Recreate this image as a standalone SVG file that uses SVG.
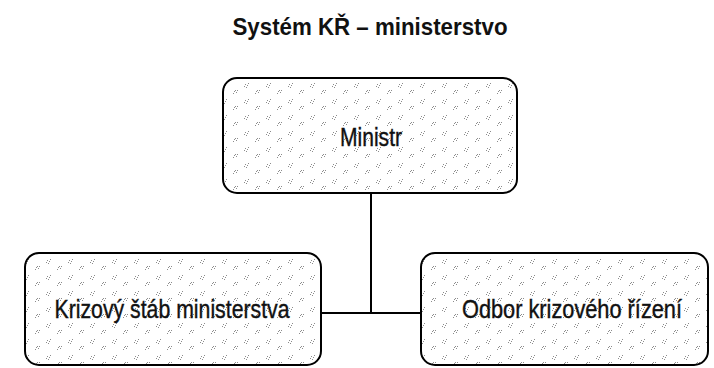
<svg xmlns="http://www.w3.org/2000/svg" width="714" height="368" viewBox="0 0 714 368">
  <style>
    .box { fill: url(#speckle); stroke: #000; stroke-width: 2; }
    .lbl { font-family: "Liberation Sans", Arial, sans-serif; font-size: 26px; fill: #111; stroke: #111; stroke-width: 0.4; text-anchor: middle; }
    .title { font-family: "Liberation Sans", Arial, sans-serif; font-size: 24px; font-weight: bold; fill: #111; text-anchor: middle; }
    .conn { stroke: #000; stroke-width: 2; fill: none; }
  </style>
  <defs>
    <pattern id="speckle" width="22" height="16" patternUnits="userSpaceOnUse">
      <rect width="22" height="16" fill="#fff"/>
      <g fill="#8c8c8c">
        <rect x="3" y="4" width="1" height="1"/>
        <rect x="5" y="5" width="1" height="1"/>
        <rect x="4" y="7" width="1" height="1"/>
        <rect x="6" y="3" width="1" height="1"/>
        <rect x="2" y="6" width="1" height="1"/>
        <rect x="14" y="11" width="1" height="1"/>
        <rect x="16" y="12" width="1" height="1"/>
        <rect x="15" y="10" width="1" height="1"/>
        <rect x="13" y="13" width="1" height="1"/>
        <rect x="17" y="10" width="1" height="1"/>
      </g>
    </pattern>
  </defs>
  <text class="title" x="370" y="35" textLength="275" lengthAdjust="spacingAndGlyphs">Systém KŘ – ministerstvo</text>
  <g id="connectors">
    <line class="conn" x1="371" y1="193" x2="371" y2="313"/>
    <line class="conn" x1="321" y1="313" x2="421" y2="313"/>
  </g>
  <g id="node-ministr">
    <rect class="box" x="223" y="78" width="294" height="115" rx="14" ry="14"/>
    <text class="lbl" x="371" y="146" textLength="62" lengthAdjust="spacingAndGlyphs">Ministr</text>
  </g>
  <g id="node-stab">
    <rect class="box" x="25" y="253" width="296" height="112" rx="14" ry="14"/>
    <text class="lbl" x="172" y="318" textLength="235" lengthAdjust="spacingAndGlyphs">Krizový štáb ministerstva</text>
  </g>
  <g id="node-odbor">
    <rect class="box" x="421" y="253" width="287" height="112" rx="14" ry="14"/>
    <text class="lbl" x="572" y="318" textLength="220" lengthAdjust="spacingAndGlyphs">Odbor krizového řízení</text>
  </g>
</svg>
